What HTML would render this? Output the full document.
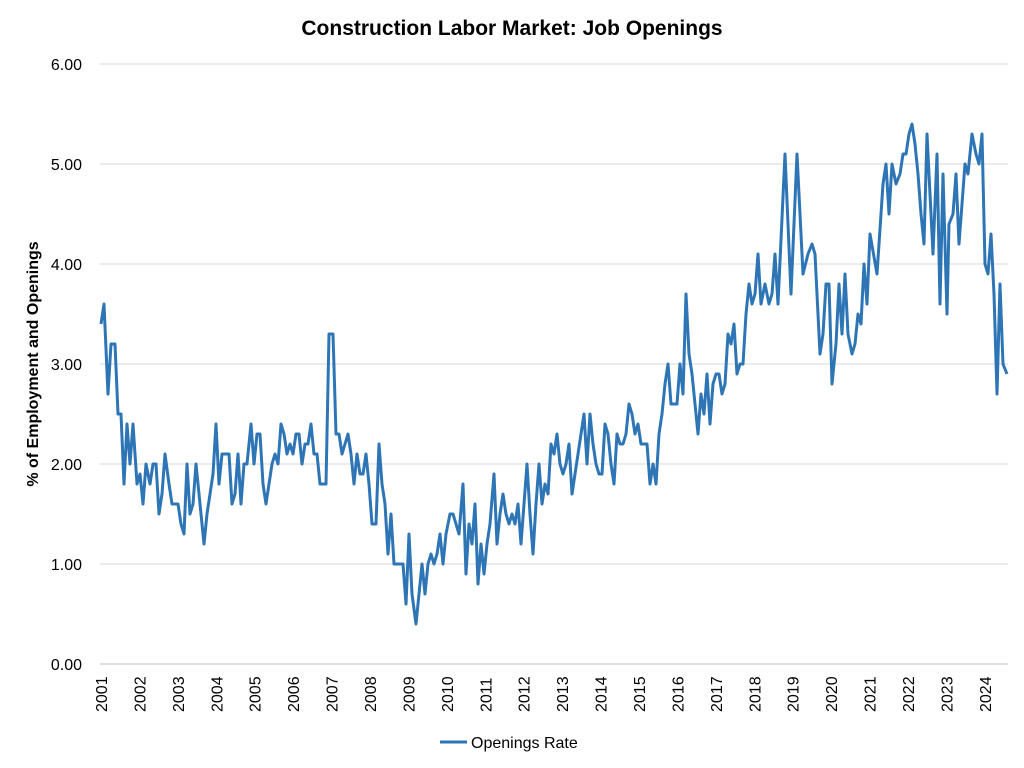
<!DOCTYPE html>
<html><head><meta charset="utf-8"><style>
body{margin:0;background:#fff;}
svg{display:block;font-family:"Liberation Sans",Arial,sans-serif;}
</style></head><body>
<svg id="s" width="1024" height="768" xmlns="http://www.w3.org/2000/svg">
<text x="512" y="35" text-anchor="middle" font-size="21" font-weight="bold" fill="#000">Construction Labor Market: Job Openings</text>
<g stroke="#d9d9d9" stroke-width="1">
<line x1="100" x2="1008" y1="64" y2="64"/><line x1="100" x2="1008" y1="164" y2="164"/>
<line x1="100" x2="1008" y1="264" y2="264"/><line x1="100" x2="1008" y1="364" y2="364"/>
<line x1="100" x2="1008" y1="464" y2="464"/><line x1="100" x2="1008" y1="564" y2="564"/>
</g>
<line x1="100" x2="1008" y1="664" y2="664" stroke="#bfbfbf" stroke-width="1"/>
<g font-size="16" text-anchor="end" fill="#000">
<text x="82" y="70">6.00</text><text x="82" y="170">5.00</text><text x="82" y="270">4.00</text>
<text x="82" y="370">3.00</text><text x="82" y="470">2.00</text><text x="82" y="570">1.00</text><text x="82" y="670">0.00</text>
</g>
<text transform="translate(38,364) rotate(-90)" text-anchor="middle" font-size="16" font-weight="bold">% of Employment and Openings</text>
<g id="yrs" font-size="16" fill="#000"></g>
<polyline id="ln" fill="none" stroke="#2e75b6" stroke-width="3" stroke-linejoin="round"/>
<line x1="440" x2="467" y1="742" y2="742" stroke="#2e75b6" stroke-width="3"/>
<text x="471" y="748" font-size="16">Openings Rate</text>
</svg>
<script>
var g=document.getElementById('yrs'),h='';
for(var i=0;i<24;i++){var x=101+i*38.43;h+='<text transform="translate('+(x+6)+',712) rotate(-90)">'+(2001+i)+'</text>';}
g.innerHTML=h;
var d=[[101,3.4],[104,3.6],[108,2.7],[111,3.2],[115,3.2],[118,2.5],[121,2.5],[124,1.8],[127,2.4],[130,2.0],[133,2.4],[137,1.8],[140,1.9],[143,1.6],[146,2.0],[150,1.8],[153,2.0],[156,2.0],[159,1.5],[162,1.7],[165,2.1],[169,1.8],[172,1.6],[175,1.6],[178,1.6],[181,1.4],[184,1.3],[187,2.0],[190,1.5],[193,1.6],[196,2.0],[200,1.6],[204,1.2],[207,1.5],[210,1.7],[213,1.9],[216,2.4],[219,1.8],[222,2.1],[226,2.1],[229,2.1],[232,1.6],[235,1.7],[238,2.1],[241,1.6],[244,2.0],[247,2.0],[251,2.4],[254,2.0],[257,2.3],[260,2.3],[263,1.8],[266,1.6],[269,1.8],[272,2.0],[275,2.1],[278,2.0],[281,2.4],[284,2.3],[287,2.1],[290,2.2],[293,2.1],[296,2.3],[299,2.3],[302,2.0],[305,2.2],[308,2.2],[311,2.4],[314,2.1],[317,2.1],[320,1.8],[326,1.8],[329,3.3],[333,3.3],[336,2.3],[339,2.3],[342,2.1],[345,2.2],[348,2.3],[351,2.1],[354,1.8],[357,2.1],[360,1.9],[363,1.9],[366,2.1],[369,1.8],[372,1.4],[376,1.4],[379,2.2],[382,1.8],[385,1.6],[388,1.1],[391,1.5],[394,1.0],[403,1.0],[406,0.6],[409,1.3],[412,0.7],[416,0.4],[419,0.7],[422,1.0],[425,0.7],[428,1.0],[431,1.1],[434,1.0],[437,1.1],[440,1.3],[443,1.0],[446,1.3],[450,1.5],[453,1.5],[456,1.4],[459,1.3],[463,1.8],[466,0.9],[469,1.4],[472,1.2],[475,1.6],[478,0.8],[481,1.2],[484,0.9],[487,1.2],[490,1.4],[494,1.9],[497,1.2],[500,1.5],[503,1.7],[506,1.5],[509,1.4],[512,1.5],[515,1.4],[518,1.6],[521,1.2],[524,1.6],[527,2.0],[530,1.5],[533,1.1],[536,1.6],[539,2.0],[542,1.6],[545,1.8],[548,1.7],[551,2.2],[554,2.1],[557,2.3],[560,2.0],[563,1.9],[566,2.0],[569,2.2],[572,1.7],[575,1.9],[578,2.1],[581,2.3],[584,2.5],[587,2.0],[590,2.5],[593,2.2],[596,2.0],[599,1.9],[602,1.9],[605,2.4],[608,2.3],[611,2.0],[614,1.8],[617,2.3],[620,2.2],[623,2.2],[626,2.3],[629,2.6],[632,2.5],[635,2.3],[638,2.4],[641,2.2],[644,2.2],[647,2.2],[650,1.8],[653,2.0],[656,1.8],[659,2.3],[662,2.5],[665,2.8],[668,3.0],[671,2.6],[674,2.6],[677,2.6],[680,3.0],[683,2.7],[686,3.7],[689,3.1],[692,2.9],[695,2.6],[698,2.3],[701,2.7],[704,2.5],[707,2.9],[710,2.4],[713,2.8],[716,2.9],[719,2.9],[722,2.7],[725,2.8],[728,3.3],[731,3.2],[734,3.4],[737,2.9],[740,3.0],[743,3.0],[746,3.5],[749,3.8],[752,3.6],[755,3.7],[758,4.1],[761,3.6],[765,3.8],[769,3.6],[772,3.7],[775,4.1],[778,3.6],[785,5.1],[791,3.7],[797,5.1],[803,3.9],[808,4.1],[812,4.2],[815,4.1],[820,3.1],[823,3.3],[826,3.8],[829,3.8],[832,2.8],[836,3.2],[839,3.8],[842,3.3],[845,3.9],[848,3.3],[852,3.1],[855,3.2],[858,3.5],[861,3.4],[864,4.0],[867,3.6],[870,4.3],[877,3.9],[883,4.8],[886,5.0],[889,4.5],[892,5.0],[896,4.8],[900,4.9],[903,5.1],[906,5.1],[909,5.3],[912,5.4],[915,5.2],[918,4.9],[921,4.5],[924,4.2],[927,5.3],[930,4.7],[933,4.1],[937,5.1],[940,3.6],[943,4.9],[947,3.5],[949,4.4],[953,4.5],[956,4.9],[959,4.2],[965,5.0],[968,4.9],[972,5.3],[976,5.1],[979,5.0],[982,5.3],[985,4.0],[988,3.9],[991,4.3],[994,3.7],[997,2.7],[1000,3.8],[1003,3.0],[1007,2.9]];
document.getElementById('ln').setAttribute('points',d.map(function(p){return p[0]+','+(664-p[1]*100).toFixed(1)}).join(' '));
</script>
</body></html>
